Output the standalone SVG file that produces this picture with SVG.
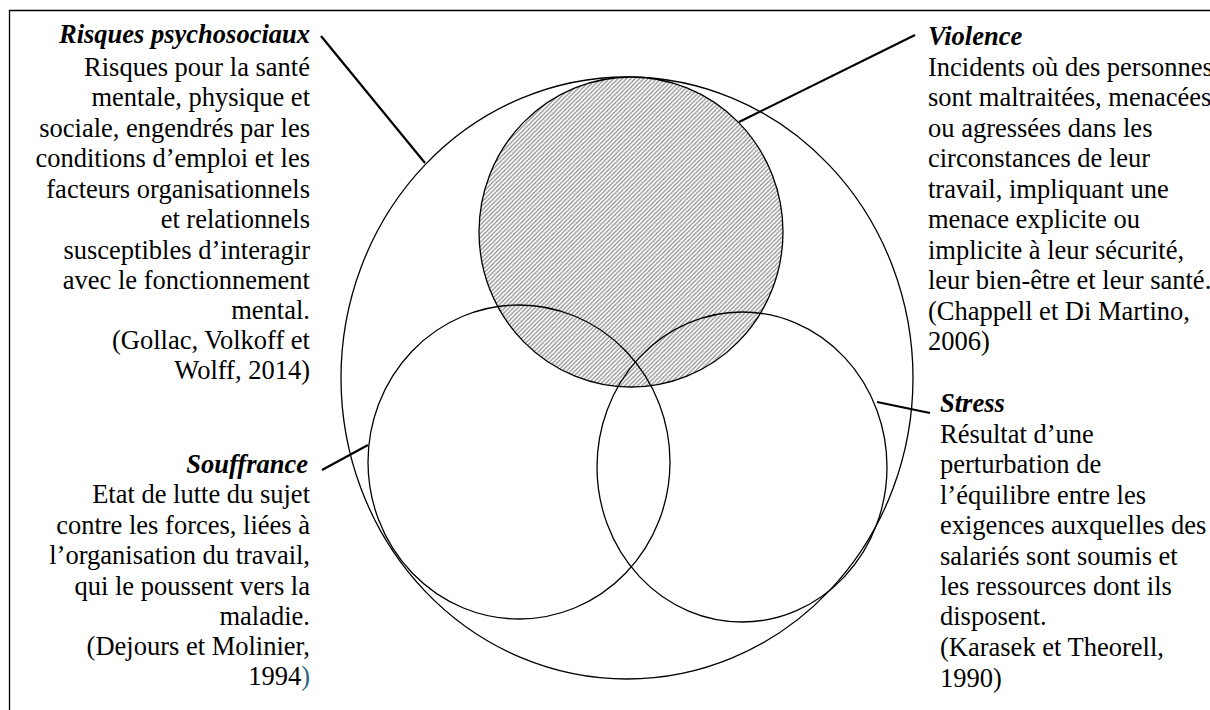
<svg xmlns="http://www.w3.org/2000/svg" width="1210" height="710" viewBox="0 0 1210 710">
<style>
.t{font-family:"Liberation Serif","Times New Roman",serif;font-size:26.5px;fill:#000}
.h{font-weight:bold;font-style:italic}
.L{text-anchor:end}
.c{fill:none;stroke:#000;stroke-width:1.3}
.k{stroke:#000;stroke-width:2.2;fill:none}
</style>
<defs>
<pattern id="hatch" patternUnits="userSpaceOnUse" width="4.3" height="4.3">
<rect width="4.3" height="4.3" fill="#ffffff"/>
<path d="M-1,1 l2,-2 M0,4.3 l4.3,-4.3 M3.3,5.3 l2,-2" stroke="#8f8f8f" stroke-width="1.3"/>
</pattern>
</defs>
<rect width="1210" height="710" fill="#fff"/>
<path d="M9.5,710 V10.5 H1210" fill="none" stroke="#000" stroke-width="1.3"/>
<g id="circles">
<ellipse id="rps" class="c" cx="627" cy="378" rx="286" ry="301"/>
<ellipse id="violence" cx="631" cy="232" rx="152" ry="155" fill="url(#hatch)" stroke="#000" stroke-width="1.3"/>
<ellipse id="souffrance" class="c" cx="519" cy="462" rx="151" ry="157"/>
<ellipse id="stress" class="c" cx="742" cy="467" rx="145" ry="155"/>
</g>
<g id="connectors">
<line class="k" x1="321" y1="36" x2="425" y2="163"/>
<line class="k" x1="915" y1="35" x2="739" y2="122"/>
<line class="k" x1="322" y1="470" x2="368" y2="445"/>
<line class="k" x1="877" y1="402" x2="930" y2="413"/>
</g>
<g id="label-rps" class="t L">
<text x="310" y="43" class="h">Risques psychosociaux</text>
<text x="310" y="76">Risques pour la santé</text>
<text x="310" y="106">mentale, physique et</text>
<text x="310" y="137">sociale, engendrés par les</text>
<text x="310" y="167">conditions d’emploi et les</text>
<text x="310" y="198">facteurs organisationnels</text>
<text x="310" y="228">et relationnels</text>
<text x="310" y="259">susceptibles d’interagir</text>
<text x="310" y="289">avec le fonctionnement</text>
<text x="310" y="319">mental.</text>
<text x="310" y="349">(Gollac, Volkoff et</text>
<text x="310" y="379">Wolff, 2014)</text>
</g>
<g id="label-souffrance" class="t L">
<text x="308" y="473" class="h">Souffrance</text>
<text x="310" y="503">Etat de lutte du sujet</text>
<text x="310" y="534">contre les forces, liées à</text>
<text x="310" y="564">l’organisation du travail,</text>
<text x="310" y="595">qui le poussent vers la</text>
<text x="310" y="625">maladie.</text>
<text x="310" y="655">(Dejours et Molinier,</text>
<text x="310" y="685">1994<tspan fill="#2b6584">)</tspan></text>
</g>
<g id="label-violence" class="t">
<text x="928" y="45" class="h">Violence</text>
<text x="928" y="76">Incidents où des personnes</text>
<text x="928" y="106">sont maltraitées, menacées</text>
<text x="928" y="137">ou agressées dans les</text>
<text x="928" y="167">circonstances de leur</text>
<text x="928" y="198">travail, impliquant une</text>
<text x="928" y="228">menace explicite ou</text>
<text x="928" y="259">implicite à leur sécurité,</text>
<text x="928" y="289">leur bien-être et leur santé.</text>
<text x="928" y="320">(Chappell et Di Martino,</text>
<text x="928" y="350">2006)</text>
</g>
<g id="label-stress" class="t">
<text x="940" y="412" class="h">Stress</text>
<text x="940" y="443">Résultat d’une</text>
<text x="940" y="473">perturbation de</text>
<text x="940" y="504">l’équilibre entre les</text>
<text x="940" y="534">exigences auxquelles des</text>
<text x="940" y="565">salariés sont soumis et</text>
<text x="940" y="595">les ressources dont ils</text>
<text x="940" y="625">disposent.</text>
<text x="940" y="656">(Karasek et Theorell,</text>
<text x="940" y="687">1990)</text>
</g>
</svg>
